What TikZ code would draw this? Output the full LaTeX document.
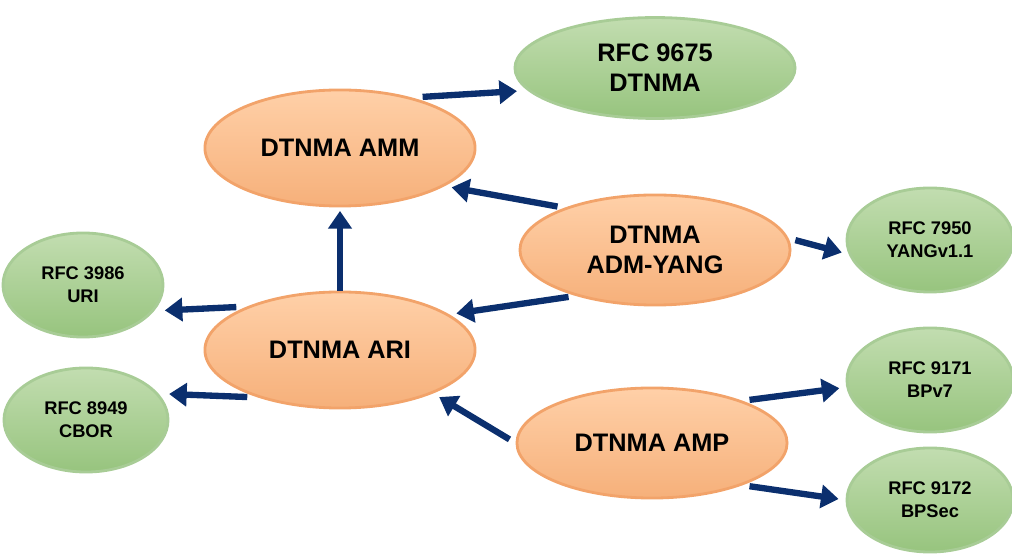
\documentclass[tikz,border=0pt]{standalone}
\usepackage{fontspec}
\setmainfont{Liberation Sans}
\usetikzlibrary{shapes.geometric,arrows.meta}
\definecolor{arrowblue}{HTML}{0B2F6E}
\definecolor{orangetop}{HTML}{FFD0A8}
\definecolor{orangebot}{HTML}{F6B07A}
\definecolor{orangeline}{HTML}{F2A36A}
\definecolor{greentop}{HTML}{C2DDB0}
\definecolor{greenbot}{HTML}{97C47E}
\definecolor{greenline}{HTML}{A8CC96}
\tikzset{
  core/.style={ellipse, draw=orangeline, line width=0.8pt, top color=orangetop,
    bottom color=orangebot, align=center, font=\fontsize{7.2}{8.6}\selectfont\bfseries},
  rfc/.style={ellipse, draw=greenline, line width=0.8pt, top color=greentop,
    bottom color=greenbot, align=center, font=\fontsize{5.2}{6.6}\selectfont\bfseries},
  link/.style={arrowblue, line width=1.8pt, -{Triangle[length=5pt,width=6.5pt]}}
}
\begin{document}
\begin{tikzpicture}[x=0.01cm,y=-0.01cm]
        \useasboundingbox (0,0) rectangle (1012,558);
        % Core DTNMA parts
        \node[core, minimum width=2.7cm, minimum height=1.16cm] (amm) at (340,148) {DTNMA AMM};
        \node[core, minimum width=2.7cm, minimum height=1.1cm] (adm) at (655,250) {DTNMA\\ADM-YANG};
        \node[core, minimum width=2.7cm, minimum height=1.16cm] (ari) at (340,350) {DTNMA ARI};
        \node[core, minimum width=2.7cm, minimum height=1.1cm] (amp) at (652,443) {DTNMA AMP};
        % RFCs
        \node[rfc, minimum width=2.8cm, minimum height=0.92cm,
          font=\fontsize{7.2}{8.6}\selectfont\bfseries] (rfcdtnma) at (655,68) {RFC 9675\\DTNMA};
        \node[rfc, minimum width=1.66cm, minimum height=1.04cm] (rfcyang) at (930,240) {RFC 7950\\YANGv1.1};
        \node[rfc, minimum width=1.6cm, minimum height=1.04cm] (rfcuri) at (83,285) {RFC 3986\\URI};
        \node[rfc, minimum width=1.64cm, minimum height=1.04cm] (rfccbor) at (86,420) {RFC 8949\\CBOR};
        \node[rfc, minimum width=1.66cm, minimum height=1.04cm] (rfcbp) at (930,380) {RFC 9171\\BPv7};
        \node[rfc, minimum width=1.66cm, minimum height=1.04cm] (rfcbpsec) at (930,500) {RFC 9172\\BPSec};
        % Dependencies
        \draw[link, shorten <=3pt, shorten >=3pt] (amm.35) -- (rfcdtnma.190);
        \draw[link, shorten <=2pt, shorten >=2pt] (adm.155) -- (amm.-20);
        \draw[link, shorten <=2pt, shorten >=2pt] (adm.5) -- (rfcyang.190);
        \draw[link, shorten >=1pt] (ari) -- (amm);
        \draw[link, shorten <=3pt, shorten >=3pt] (ari.155) -- (rfcuri.-20);
        \draw[link, shorten <=3pt, shorten >=3pt] (ari.-150) -- (rfccbor.20);
        \draw[link, shorten <=2pt, shorten >=2pt] (adm.-150) -- (ari.18);
        \draw[link, shorten <=2pt, shorten >=2pt] (amp.180) -- (ari.-25);
        \draw[link, shorten <=2pt, shorten >=2pt] (amp.25) -- (rfcbp.185);
        \draw[link, shorten <=2pt, shorten >=2pt] (amp.-25) -- (rfcbpsec.180);
\end{tikzpicture}
\end{document}
